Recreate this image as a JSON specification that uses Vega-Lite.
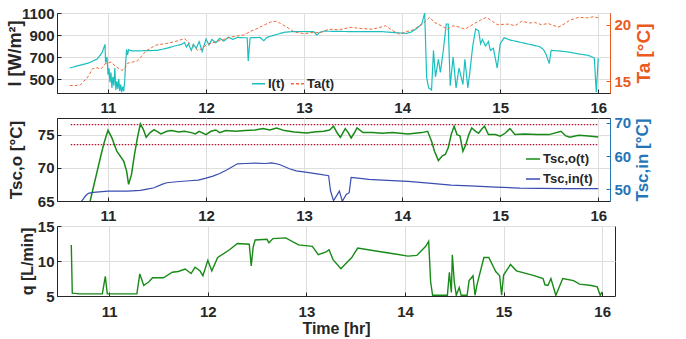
{
"$schema":"https://vega.github.io/schema/vega-lite/v6.json",
"padding":{"left":5,"top":5,"right":5,"bottom":3},
"config":{"font":"Liberation Sans","view":{"stroke":"#262626","strokeWidth":1},
"axis":{"labelFont":"Liberation Sans","labelFontWeight":"bold","labelFontSize":15,"labelColor":"#262626","titleFont":"Liberation Sans","titleFontWeight":"bold","titleColor":"#262626","gridColor":"#dedede","gridWidth":1,"tickColor":"#262626","domainColor":"#262626","tickSize":-4,"labelPadding":7,"format":"d"}},
"datasets":{
"I":[{"t":10.61,"v":600},{"t":10.7,"v":622},{"t":10.8,"v":645},{"t":10.89,"v":682},{"t":10.94,"v":740},{"t":10.97,"v":815},{"t":10.975,"v":650},{"t":10.99,"v":700},{"t":11.0,"v":540},{"t":11.01,"v":600},{"t":11.02,"v":470},{"t":11.03,"v":560},{"t":11.04,"v":420},{"t":11.05,"v":520},{"t":11.06,"v":440},{"t":11.07,"v":600},{"t":11.08,"v":400},{"t":11.09,"v":480},{"t":11.1,"v":410},{"t":11.11,"v":500},{"t":11.12,"v":390},{"t":11.13,"v":450},{"t":11.14,"v":380},{"t":11.15,"v":430},{"t":11.16,"v":390},{"t":11.17,"v":470},{"t":11.18,"v":650},{"t":11.19,"v":770},{"t":11.2,"v":720},{"t":11.21,"v":765},{"t":11.25,"v":755},{"t":11.5,"v":760},{"t":11.6,"v":780},{"t":11.68,"v":800},{"t":11.75,"v":815},{"t":11.78,"v":833},{"t":11.8,"v":790},{"t":11.82,"v":820},{"t":11.85,"v":760},{"t":11.87,"v":815},{"t":11.9,"v":780},{"t":11.93,"v":840},{"t":11.96,"v":750},{"t":12.0,"v":863},{"t":12.03,"v":810},{"t":12.06,"v":860},{"t":12.1,"v":830},{"t":12.14,"v":870},{"t":12.18,"v":845},{"t":12.23,"v":880},{"t":12.27,"v":860},{"t":12.32,"v":878},{"t":12.38,"v":875},{"t":12.42,"v":875},{"t":12.43,"v":663},{"t":12.45,"v":875},{"t":12.55,"v":878},{"t":12.59,"v":848},{"t":12.62,"v":878},{"t":12.7,"v":900},{"t":12.8,"v":925},{"t":12.87,"v":930},{"t":13.0,"v":932},{"t":13.1,"v":930},{"t":13.13,"v":900},{"t":13.16,"v":925},{"t":13.2,"v":935},{"t":13.4,"v":932},{"t":13.6,"v":930},{"t":13.8,"v":930},{"t":13.95,"v":920},{"t":14.05,"v":915},{"t":14.1,"v":930},{"t":14.15,"v":960},{"t":14.2,"v":1000},{"t":14.23,"v":1100},{"t":14.25,"v":515},{"t":14.27,"v":420},{"t":14.3,"v":400},{"t":14.32,"v":760},{"t":14.34,"v":520},{"t":14.37,"v":680},{"t":14.39,"v":560},{"t":14.42,"v":760},{"t":14.45,"v":1000},{"t":14.47,"v":1000},{"t":14.49,"v":440},{"t":14.52,"v":700},{"t":14.55,"v":420},{"t":14.58,"v":600},{"t":14.62,"v":450},{"t":14.64,"v":680},{"t":14.67,"v":420},{"t":14.69,"v":560},{"t":14.72,"v":800},{"t":14.75,"v":955},{"t":14.78,"v":940},{"t":14.8,"v":820},{"t":14.82,"v":860},{"t":14.85,"v":800},{"t":14.88,"v":840},{"t":14.9,"v":760},{"t":14.93,"v":780},{"t":14.97,"v":600},{"t":15.0,"v":820},{"t":15.04,"v":875},{"t":15.1,"v":855},{"t":15.2,"v":835},{"t":15.3,"v":815},{"t":15.4,"v":795},{"t":15.44,"v":770},{"t":15.47,"v":720},{"t":15.5,"v":640},{"t":15.52,"v":760},{"t":15.6,"v":755},{"t":15.7,"v":745},{"t":15.8,"v":728},{"t":15.9,"v":715},{"t":15.96,"v":690},{"t":15.98,"v":380},{"t":16.0,"v":690}],
"Ta":[{"t":10.61,"v":14.64},{"t":10.66,"v":14.62},{"t":10.72,"v":14.7},{"t":10.75,"v":15.0},{"t":10.78,"v":15.2},{"t":10.81,"v":15.6},{"t":10.84,"v":16.1},{"t":10.88,"v":16.2},{"t":10.93,"v":16.1},{"t":10.97,"v":16.55},{"t":11.03,"v":16.7},{"t":11.08,"v":16.3},{"t":11.14,"v":15.97},{"t":11.17,"v":16.1},{"t":11.2,"v":16.6},{"t":11.3,"v":16.8},{"t":11.39,"v":17.7},{"t":11.49,"v":18.2},{"t":11.6,"v":18.35},{"t":11.68,"v":18.5},{"t":11.78,"v":18.77},{"t":11.85,"v":18.2},{"t":11.92,"v":17.7},{"t":11.96,"v":17.9},{"t":12.0,"v":18.2},{"t":12.1,"v":18.5},{"t":12.18,"v":18.7},{"t":12.25,"v":18.9},{"t":12.39,"v":19.1},{"t":12.45,"v":19.4},{"t":12.52,"v":19.65},{"t":12.6,"v":20.0},{"t":12.66,"v":20.24},{"t":12.72,"v":20.3},{"t":12.76,"v":20.1},{"t":12.82,"v":19.8},{"t":12.9,"v":19.36},{"t":13.0,"v":19.2},{"t":13.07,"v":19.3},{"t":13.17,"v":19.3},{"t":13.25,"v":19.6},{"t":13.35,"v":19.55},{"t":13.48,"v":19.76},{"t":13.6,"v":19.65},{"t":13.7,"v":19.6},{"t":13.83,"v":19.9},{"t":13.9,"v":19.5},{"t":13.97,"v":19.17},{"t":14.05,"v":19.4},{"t":14.1,"v":19.5},{"t":14.16,"v":19.8},{"t":14.21,"v":20.06},{"t":14.28,"v":20.65},{"t":14.33,"v":20.2},{"t":14.4,"v":19.9},{"t":14.46,"v":19.6},{"t":14.52,"v":19.9},{"t":14.58,"v":19.8},{"t":14.64,"v":19.6},{"t":14.73,"v":20.06},{"t":14.8,"v":20.4},{"t":14.86,"v":20.65},{"t":14.92,"v":20.3},{"t":14.97,"v":20.0},{"t":15.09,"v":20.05},{"t":15.15,"v":19.9},{"t":15.22,"v":20.3},{"t":15.3,"v":20.15},{"t":15.35,"v":20.2},{"t":15.42,"v":20.0},{"t":15.49,"v":20.1},{"t":15.55,"v":19.9},{"t":15.6,"v":19.8},{"t":15.66,"v":20.1},{"t":15.71,"v":20.4},{"t":15.8,"v":20.65},{"t":15.89,"v":20.6},{"t":15.95,"v":20.7},{"t":16.0,"v":20.6}],
"Tsco":[{"t":10.81,"v":64.5},{"t":10.85,"v":67},{"t":10.89,"v":69.5},{"t":10.93,"v":72},{"t":10.96,"v":73.75},{"t":11.0,"v":75.65},{"t":11.04,"v":74.5},{"t":11.09,"v":72.5},{"t":11.16,"v":71},{"t":11.19,"v":69.5},{"t":11.21,"v":67.5},{"t":11.24,"v":69},{"t":11.27,"v":72},{"t":11.3,"v":74.5},{"t":11.33,"v":76.6},{"t":11.36,"v":75.8},{"t":11.39,"v":74.6},{"t":11.43,"v":75.3},{"t":11.47,"v":75.75},{"t":11.54,"v":75.1},{"t":11.6,"v":75.5},{"t":11.65,"v":75.6},{"t":11.72,"v":75.4},{"t":11.78,"v":75.5},{"t":11.85,"v":75.3},{"t":11.89,"v":75.1},{"t":11.93,"v":75.5},{"t":12.0,"v":75.0},{"t":12.05,"v":75.5},{"t":12.1,"v":75.7},{"t":12.14,"v":75.3},{"t":12.2,"v":75.6},{"t":12.3,"v":75.5},{"t":12.4,"v":75.6},{"t":12.5,"v":75.7},{"t":12.58,"v":75.9},{"t":12.65,"v":75.7},{"t":12.72,"v":76.0},{"t":12.8,"v":75.6},{"t":12.9,"v":75.4},{"t":13.03,"v":75.25},{"t":13.1,"v":75.4},{"t":13.2,"v":75.5},{"t":13.26,"v":75.7},{"t":13.3,"v":76.25},{"t":13.34,"v":75.2},{"t":13.37,"v":74.6},{"t":13.42,"v":75.9},{"t":13.45,"v":75.3},{"t":13.48,"v":74.5},{"t":13.51,"v":75.2},{"t":13.54,"v":76.0},{"t":13.6,"v":75.3},{"t":13.7,"v":75.3},{"t":13.8,"v":75.2},{"t":13.9,"v":75.3},{"t":14.06,"v":75.1},{"t":14.2,"v":75.3},{"t":14.26,"v":75.5},{"t":14.3,"v":74.0},{"t":14.33,"v":72.5},{"t":14.37,"v":71.1},{"t":14.41,"v":71.8},{"t":14.44,"v":72.0},{"t":14.47,"v":73.0},{"t":14.5,"v":75.0},{"t":14.53,"v":76.25},{"t":14.56,"v":75.0},{"t":14.59,"v":74.8},{"t":14.62,"v":72.5},{"t":14.65,"v":73.5},{"t":14.68,"v":75.0},{"t":14.71,"v":76.0},{"t":14.75,"v":75.5},{"t":14.78,"v":75.2},{"t":14.81,"v":75.8},{"t":14.84,"v":76.25},{"t":14.88,"v":75.0},{"t":14.95,"v":75.0},{"t":15.0,"v":74.75},{"t":15.05,"v":75.2},{"t":15.1,"v":75.9},{"t":15.15,"v":75.0},{"t":15.25,"v":75.1},{"t":15.38,"v":75.0},{"t":15.5,"v":75.0},{"t":15.62,"v":75.5},{"t":15.67,"v":74.8},{"t":15.71,"v":74.6},{"t":15.8,"v":74.9},{"t":15.9,"v":74.8},{"t":16.0,"v":74.65}],
"Tsci":[{"t":10.73,"v":46.4},{"t":10.77,"v":48.0},{"t":10.8,"v":48.8},{"t":10.85,"v":49.1},{"t":11.0,"v":49.5},{"t":11.2,"v":49.5},{"t":11.33,"v":49.7},{"t":11.4,"v":50.1},{"t":11.47,"v":50.5},{"t":11.55,"v":51.5},{"t":11.6,"v":52.0},{"t":11.7,"v":52.3},{"t":11.83,"v":52.6},{"t":11.92,"v":52.8},{"t":12.0,"v":53.4},{"t":12.07,"v":54.0},{"t":12.14,"v":54.8},{"t":12.22,"v":56.0},{"t":12.32,"v":57.7},{"t":12.4,"v":57.8},{"t":12.5,"v":57.9},{"t":12.6,"v":57.8},{"t":12.67,"v":58.0},{"t":12.75,"v":57.5},{"t":12.85,"v":56.2},{"t":12.92,"v":55.6},{"t":13.03,"v":55.1},{"t":13.15,"v":54.6},{"t":13.25,"v":54.1},{"t":13.27,"v":49.5},{"t":13.3,"v":46.6},{"t":13.34,"v":48.5},{"t":13.36,"v":49.5},{"t":13.39,"v":46.4},{"t":13.43,"v":48.5},{"t":13.46,"v":49.0},{"t":13.48,"v":53.6},{"t":13.55,"v":53.4},{"t":13.66,"v":53.0},{"t":13.8,"v":52.8},{"t":14.06,"v":52.4},{"t":14.3,"v":51.8},{"t":14.5,"v":51.3},{"t":14.75,"v":51.0},{"t":14.95,"v":50.7},{"t":15.2,"v":50.4},{"t":15.4,"v":50.3},{"t":15.7,"v":50.2},{"t":16.0,"v":50.2}],
"q":[{"t":10.615,"v":12.3},{"t":10.625,"v":5.4},{"t":10.7,"v":5.3},{"t":10.93,"v":5.3},{"t":10.96,"v":7.8},{"t":10.98,"v":5.3},{"t":11.28,"v":5.3},{"t":11.31,"v":8.15},{"t":11.35,"v":6.5},{"t":11.4,"v":7.0},{"t":11.44,"v":7.6},{"t":11.55,"v":7.6},{"t":11.64,"v":8.4},{"t":11.7,"v":8.5},{"t":11.77,"v":8.85},{"t":11.83,"v":8.2},{"t":11.87,"v":9.1},{"t":11.92,"v":8.6},{"t":11.95,"v":7.9},{"t":12.0,"v":10.1},{"t":12.04,"v":8.6},{"t":12.1,"v":10.5},{"t":12.22,"v":11.6},{"t":12.3,"v":12.5},{"t":12.42,"v":12.4},{"t":12.44,"v":9.3},{"t":12.46,"v":12.0},{"t":12.48,"v":13.0},{"t":12.6,"v":13.1},{"t":12.62,"v":12.6},{"t":12.66,"v":13.2},{"t":12.79,"v":13.3},{"t":12.92,"v":12.3},{"t":13.06,"v":12.1},{"t":13.12,"v":10.9},{"t":13.2,"v":11.3},{"t":13.23,"v":11.6},{"t":13.27,"v":10.2},{"t":13.35,"v":8.9},{"t":13.41,"v":9.8},{"t":13.46,"v":10.5},{"t":13.52,"v":11.85},{"t":13.72,"v":11.4},{"t":13.9,"v":11.0},{"t":14.03,"v":10.7},{"t":14.12,"v":10.8},{"t":14.21,"v":12.1},{"t":14.24,"v":12.8},{"t":14.26,"v":7.0},{"t":14.28,"v":5.1},{"t":14.43,"v":5.1},{"t":14.45,"v":8.4},{"t":14.47,"v":5.5},{"t":14.48,"v":10.9},{"t":14.5,"v":7.0},{"t":14.52,"v":5.1},{"t":14.55,"v":6.2},{"t":14.57,"v":5.1},{"t":14.63,"v":5.1},{"t":14.65,"v":7.2},{"t":14.69,"v":7.9},{"t":14.71,"v":5.1},{"t":14.73,"v":6.6},{"t":14.8,"v":10.5},{"t":14.85,"v":10.5},{"t":14.92,"v":8.5},{"t":14.96,"v":7.9},{"t":14.98,"v":5.1},{"t":15.0,"v":8.0},{"t":15.07,"v":9.5},{"t":15.13,"v":8.6},{"t":15.31,"v":7.9},{"t":15.4,"v":7.5},{"t":15.42,"v":6.6},{"t":15.45,"v":6.5},{"t":15.48,"v":7.5},{"t":15.53,"v":5.1},{"t":15.6,"v":7.5},{"t":15.71,"v":7.2},{"t":15.77,"v":6.7},{"t":15.89,"v":6.5},{"t":15.95,"v":6.3},{"t":15.98,"v":5.1},{"t":16.0,"v":5.6}],
"limits":[{"t0":10.62,"t1":16.0,"y":76.5},{"t0":10.62,"t1":16.0,"y":73.5}]
},
"spacing":25,
"bounds":"flush",
"resolve":{"scale":{"color":"independent","strokeDash":"independent"}},
"vconcat":[
{"width":553,"height":80,
"layer":[
{"data":{"name":"I"},"transform":[{"calculate":"'I(t)'","as":"s"}],
"mark":{"type":"line","strokeWidth":1.2,"clip":true},
"encoding":{
"x":{"field":"t","type":"quantitative","scale":{"domain":[10.48,16.12],"nice":false,"zero":false},"axis":{"values":[11,12,13,14,15,16],"title":null,"labelPadding":11,"grid":true}},
"y":{"field":"v","type":"quantitative","scale":{"domain":[373,1100],"nice":false,"zero":false},"axis":{"orient":"left","values":[500,700,900,1100],"title":"I [W/m²]","titleFontSize":18,"titleX":-33,"titleY":40,"grid":true}},
"color":{"field":"s","type":"nominal","scale":{"domain":["I(t)","Ta(t)"],"range":["#1ABFC0","#EE6A3A"]},"legend":{"title":null,"orient":"none","legendX":194,"legendY":63,"direction":"horizontal","symbolType":"stroke","symbolSize":170,"symbolStrokeWidth":1.4,"labelFontSize":13,"labelFontWeight":"bold","labelFont":"Liberation Sans","labelColor":"#262626","columnPadding":3,"labelOffset":2,"padding":0}},
"strokeDash":{"field":"s","type":"nominal","scale":{"domain":["I(t)","Ta(t)"],"range":[[1,0],[3,2]]},"legend":{"title":null,"orient":"none","legendX":194,"legendY":63,"direction":"horizontal","symbolType":"stroke","symbolSize":170,"symbolStrokeWidth":1.4,"labelFontSize":13,"labelFontWeight":"bold","labelFont":"Liberation Sans","labelColor":"#262626","columnPadding":3,"labelOffset":2,"padding":0}}
}},
{"data":{"name":"Ta"},"transform":[{"calculate":"'Ta(t)'","as":"s"}],
"mark":{"type":"line","strokeWidth":1,"clip":true},
"encoding":{
"x":{"field":"t","type":"quantitative","scale":{"domain":[10.48,16.12],"nice":false,"zero":false}},
"y":{"field":"v","type":"quantitative","scale":{"domain":[13.97,21.03],"nice":false,"zero":false},"axis":{"orient":"right","values":[15,20],"title":"Ta [°C]","titleFontSize":19,"titleAngle":270,"titleBaseline":"top","titleColor":"#EB5A1E","labelColor":"#EB5A1E","domainColor":"#EB5A1E","tickColor":"#EB5A1E","titleX":24,"titleY":40,"grid":false,"labelPadding":8}},
"color":{"field":"s","type":"nominal"},
"strokeDash":{"field":"s","type":"nominal"}
}}
],
"resolve":{"scale":{"y":"independent"}}},
{"width":553,"height":83,
"layer":[
{"data":{"name":"limits"},
"mark":{"type":"rule","color":"#B5122F","strokeDash":[1.5,1.5],"strokeWidth":1.3},
"encoding":{
"x":{"field":"t0","type":"quantitative","scale":{"domain":[10.48,16.12],"nice":false,"zero":false},"axis":{"values":[11,12,13,14,15,16],"title":null,"labelPadding":11.5,"grid":true}},
"x2":{"field":"t1"},
"y":{"field":"y","type":"quantitative","scale":{"domain":[65,77.5],"nice":false,"zero":false},"axis":null}
}},
{"data":{"name":"Tsco"},"transform":[{"calculate":"'Tsc,o(t)'","as":"s"}],
"mark":{"type":"line","strokeWidth":1.5,"clip":true},
"encoding":{
"x":{"field":"t","type":"quantitative","scale":{"domain":[10.48,16.12],"nice":false,"zero":false}},
"y":{"field":"v","type":"quantitative","scale":{"domain":[65,77.5],"nice":false,"zero":false},"axis":{"orient":"left","values":[65,70,75],"title":"Tsc,o [°C]","titleFontSize":17,"titleX":-32,"titleY":41.5,"grid":true}},
"color":{"field":"s","type":"nominal","scale":{"domain":["Tsc,o(t)","Tsc,in(t)"],"range":["#188A18","#3A4DB0"]},"legend":{"title":null,"orient":"none","legendX":468,"legendY":33,"direction":"vertical","symbolType":"stroke","symbolSize":200,"symbolStrokeWidth":1.5,"labelFontSize":13,"labelFontWeight":"bold","labelFont":"Liberation Sans","labelColor":"#262626","rowPadding":5,"labelOffset":2,"padding":0}}
}},
{"data":{"name":"Tsci"},"transform":[{"calculate":"'Tsc,in(t)'","as":"s"}],
"mark":{"type":"line","strokeWidth":1.2,"clip":true},
"encoding":{
"x":{"field":"t","type":"quantitative","scale":{"domain":[10.48,16.12],"nice":false,"zero":false}},
"y":{"field":"v","type":"quantitative","scale":{"domain":[46.5,71.5],"nice":false,"zero":false},"axis":{"orient":"right","values":[50,60,70],"title":"Tsc,in [°C]","titleFontSize":17,"titleAngle":270,"titleBaseline":"top","titleColor":"#2475B8","labelColor":"#2475B8","domainColor":"#2475B8","tickColor":"#2475B8","titleX":24,"titleY":41.5,"grid":false,"labelPadding":8}},
"color":{"field":"s","type":"nominal"}
}}
],
"resolve":{"scale":{"y":"independent"}}},
{"width":558,"height":70,
"data":{"name":"q"},
"mark":{"type":"line","strokeWidth":1.4,"color":"#188A18","clip":true},
"encoding":{
"x":{"field":"t","type":"quantitative","scale":{"domain":[10.47,16.13],"nice":false,"zero":false},"axis":{"values":[11,12,13,14,15,16],"title":"Time [hr]","titleFontSize":16,"titlePadding":1,"labelPadding":12.5,"grid":true}},
"y":{"field":"v","type":"quantitative","scale":{"domain":[5,15],"nice":false,"zero":false},"axis":{"values":[5,10,15],"title":"q [L/min]","titleFontSize":16,"titleX":-22,"titleY":35,"grid":true}}
}}
]
}
